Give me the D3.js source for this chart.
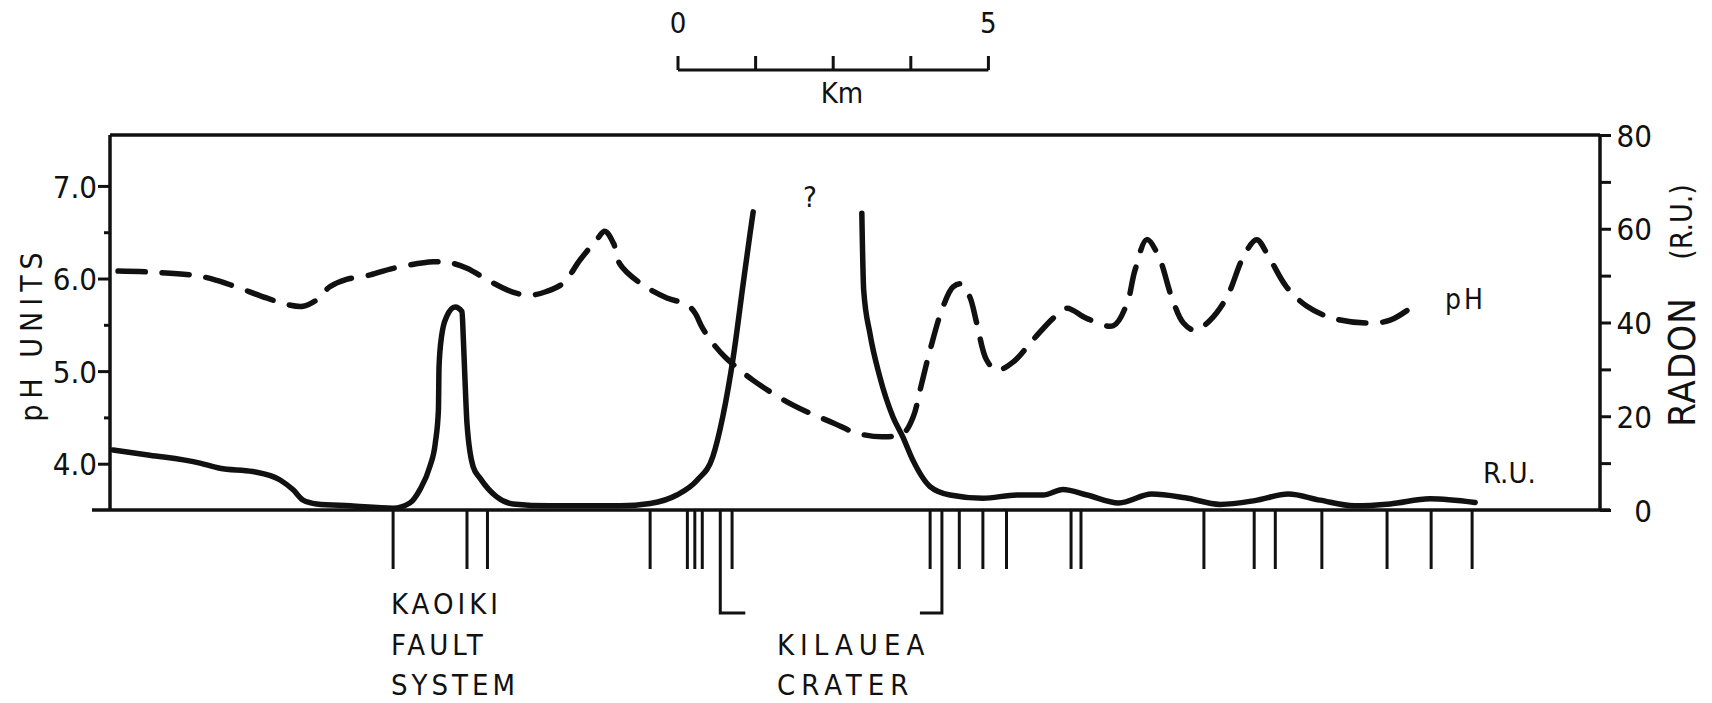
<!DOCTYPE html>
<html>
<head>
<meta charset="utf-8">
<script src="https://cdn.jsdelivr.net/npm/d3@7"></script>
<style>
  html, body { margin: 0; padding: 0; background: #ffffff; }
  svg { display: block; }
  text { font-family: 'Liberation Sans Narrow', 'DejaVu Sans Condensed', 'Liberation Sans', sans-serif; fill: #111; }
</style>
</head>
<body>
<svg id="chart" width="1712" height="703"></svg>
<script>
// Traverse distance in km; radon in R.U., soil pH in pH units.
const radonWestKm = [0.05, 0.64, 1.45, 1.77, 2.30, 2.74, 2.95, 3.11, 3.33, 3.87, 4.56, 4.83, 4.99, 5.15, 5.24, 5.29, 5.30, 5.34, 5.42, 5.56, 5.67, 5.69, 5.72, 5.75, 5.85, 5.96, 6.23, 6.49, 7.09, 8.22, 8.70, 9.13, 9.46, 9.71, 9.87, 10.04, 10.20, 10.31, 10.36];
const radonWestRU = [12.8, 11.7, 10.0, 8.9, 8.2, 6.4, 4.3, 2.1, 1.3, 0.9, 0.4, 1.5, 4.3, 9.2, 14.3, 21.3, 30.6, 37.0, 41.2, 43.3, 42.3, 37.0, 27.1, 18.5, 9.2, 6.8, 2.8, 1.3, 0.9, 0.9, 1.4, 3.2, 6.4, 11.4, 19.9, 32.7, 48.4, 59.0, 63.6];

const radonEastKm = [12.11, 12.14, 12.24, 12.40, 12.61, 12.77, 12.93, 13.21, 13.53, 14.06, 14.61, 15.03, 15.35, 15.74, 16.25, 16.78, 17.32, 17.88, 18.44, 18.98, 19.49, 20.04, 20.62, 21.26, 21.99];
const radonEastRU = [63.3, 46.9, 37.7, 28.4, 19.9, 15.6, 10.7, 5.0, 3.2, 2.5, 3.2, 3.2, 4.4, 3.2, 1.5, 3.4, 2.6, 1.2, 2.0, 3.4, 2.1, 0.9, 1.3, 2.4, 1.6];

const phKm = [0.13, 0.64, 1.40, 1.72, 1.99, 2.52, 2.85, 3.11, 3.33, 3.54, 3.81, 4.14, 4.56, 5.21, 5.48, 5.75, 6.12, 6.50, 6.77, 7.03, 7.30, 7.57, 7.84, 7.97, 8.11, 8.21, 8.54, 8.97, 9.29, 9.42, 9.54, 9.70, 9.91, 10.36, 11.01, 11.65, 12.03, 12.46, 12.78, 12.94, 13.05, 13.21, 13.42, 13.58, 13.72, 13.85, 13.96, 14.12, 14.28, 14.55, 14.87, 15.19, 15.41, 15.73, 16.16, 16.38, 16.51, 16.70, 16.89, 17.10, 17.29, 17.48, 17.72, 17.99, 18.26, 18.47, 18.66, 18.95, 19.28, 19.70, 20.24, 20.62, 21.05];
const phValues = [6.08, 6.07, 6.03, 5.98, 5.92, 5.79, 5.72, 5.70, 5.77, 5.91, 5.99, 6.03, 6.11, 6.18, 6.17, 6.11, 5.97, 5.85, 5.82, 5.86, 5.95, 6.20, 6.42, 6.51, 6.38, 6.16, 5.95, 5.79, 5.72, 5.63, 5.47, 5.31, 5.15, 4.90, 4.63, 4.44, 4.33, 4.29, 4.33, 4.51, 4.80, 5.23, 5.70, 5.91, 5.94, 5.80, 5.52, 5.12, 5.01, 5.10, 5.34, 5.57, 5.68, 5.57, 5.49, 5.73, 6.09, 6.42, 6.24, 5.80, 5.52, 5.44, 5.55, 5.80, 6.24, 6.42, 6.24, 5.91, 5.70, 5.57, 5.52, 5.55, 5.73];

// Mapped faults along the traverse and the crater rim crossings (km)
const faultKm = [4.56, 5.75, 6.08, 8.70, 9.30, 9.42, 9.54, 10.02, 13.21, 13.68, 14.06, 14.44, 15.48, 15.64, 17.62, 18.43, 18.77, 19.52, 20.57, 21.28, 21.94];
const craterRimKm = [9.83, 13.40];

const phTicks = [4.0, 4.5, 5.0, 5.5, 6.0, 6.5, 7.0];
const phTickLabels = ["4.0", "5.0", "6.0", "7.0"];
const radonTicks = [0, 10, 20, 30, 40, 50, 60, 70, 80];
const radonTickLabels = ["0", "20", "40", "60", "80"];
const scaleBarKm = [0, 1.25, 2.5, 3.75, 5];
const scaleBarLabels = ["0", "5"];

const svg = d3.select("#chart");
const INK = "#111";

const plotLeft = 110, plotRight = 1600, plotTop = 135, plotBottom = 510;

const x = d3.scaleLinear().domain([0, 24]).range([plotLeft, plotRight]);
const yPH = d3.scaleLinear().domain([3.5, 7.55]).range([plotBottom, plotTop]);
const yRn = d3.scaleLinear().domain([0, 80]).range([plotBottom, plotTop]);

// Frame
const frame = svg.append("g").attr("stroke", INK).attr("stroke-width", 3.5).attr("fill", "none");
frame.append("line").attr("x1", plotLeft).attr("x2", plotRight).attr("y1", plotTop).attr("y2", plotTop);
frame.append("line").attr("x1", plotLeft).attr("x2", plotLeft).attr("y1", plotTop).attr("y2", plotBottom);
frame.append("line").attr("x1", plotRight).attr("x2", plotRight).attr("y1", plotTop).attr("y2", plotBottom);
frame.append("line").attr("x1", 92).attr("x2", plotRight + 10).attr("y1", plotBottom).attr("y2", plotBottom);

// Left axis: pH
const axL = svg.append("g").attr("transform", `translate(${plotLeft},0)`)
  .call(d3.axisLeft(yPH).tickValues(phTicks).tickSizeOuter(0)
    .tickFormat(d => phTickLabels.includes(d.toFixed(1)) ? d.toFixed(1) : ""));
axL.select(".domain").remove();
axL.selectAll(".tick line")
  .attr("stroke", INK).attr("stroke-width", 3)
  .attr("x2", d => Number.isInteger(d) ? -12 : -6);
axL.selectAll(".tick text")
  .attr("x", -13).attr("dy", "0.36em")
  .style("font-size", "31px").attr("fill", INK);

// Right axis: radon
const axR = svg.append("g").attr("transform", `translate(${plotRight},0)`)
  .call(d3.axisRight(yRn).tickValues(radonTicks).tickSizeOuter(0).tickSize(11)
    .tickFormat(d => radonTickLabels.includes(String(d)) ? String(d) : ""));
axR.select(".domain").remove();
axR.selectAll(".tick line").attr("stroke", INK).attr("stroke-width", 3);
axR.selectAll(".tick text")
  .attr("x", 52).attr("dy", "0.36em").attr("text-anchor", "end")
  .style("font-size", "31px").attr("fill", INK);
axL.attr("font-family", null).attr("font-size", null);
axR.attr("font-family", null).attr("font-size", null);

// Axis titles
svg.append("text")
  .attr("transform", "translate(42,334) rotate(-90)")
  .attr("text-anchor", "middle")
  .style("font-size", "30px").style("letter-spacing", "6px")
  .text("pH UNITS");
svg.append("text")
  .attr("transform", "translate(1695,362) rotate(-90)")
  .attr("text-anchor", "middle")
  .style("font-size", "38px").style("letter-spacing", "1px")
  .text("RADON");
svg.append("text")
  .attr("transform", "translate(1692,222) rotate(-90)")
  .attr("text-anchor", "middle")
  .style("font-size", "30px")
  .text("(R.U.)");

// Radon curve, two branches either side of the crater
const radonLine = d3.line()
  .x(d => x(d[0])).y(d => yRn(d[1]))
  .curve(d3.curveMonotoneX);
[d3.zip(radonWestKm, radonWestRU), d3.zip(radonEastKm, radonEastRU)].forEach(branch => {
  svg.append("path").datum(branch)
    .attr("d", radonLine)
    .attr("fill", "none").attr("stroke", INK)
    .attr("stroke-width", 5.5).attr("stroke-linecap", "round").attr("stroke-linejoin", "round");
});

// pH curve (dashed)
const phLine = d3.line()
  .x(d => x(d[0])).y(d => yPH(d[1]))
  .curve(d3.curveCatmullRom.alpha(0.5));
svg.append("path").datum(d3.zip(phKm, phValues))
  .attr("d", phLine)
  .attr("fill", "none").attr("stroke", INK)
  .attr("stroke-width", 5.5).attr("stroke-linecap", "round").attr("stroke-linejoin", "round")
  .attr("stroke-dasharray", "27,17");

// Series labels
svg.append("text").attr("x", 1445).attr("y", 309)
  .style("font-size", "28px").style("letter-spacing", "3px").text("pH");
svg.append("text").attr("x", 1483).attr("y", 483)
  .style("font-size", "29px").text("R.U.");
svg.append("text").attr("x", 810).attr("y", 207).attr("text-anchor", "middle")
  .style("font-size", "29px").text("?");

// Fault ticks below the baseline
svg.append("g").selectAll("line").data(faultKm).join("line")
  .attr("x1", d => x(d)).attr("x2", d => x(d))
  .attr("y1", plotBottom).attr("y2", 569)
  .attr("stroke", INK).attr("stroke-width", 3);

// Crater rim bracket
const [rimW, rimE] = craterRimKm;
svg.append("path")
  .attr("d", `M${x(rimW)},${plotBottom}V613H${x(rimW) + 25}M${x(rimE)},${plotBottom}V613H${x(rimE) - 22}`)
  .attr("fill", "none").attr("stroke", INK).attr("stroke-width", 3);

// Feature names
const fault = svg.append("g").style("font-size", "29px").style("letter-spacing", "4px");
fault.append("text").attr("x", 391).attr("y", 614).text("KAOIKI");
fault.append("text").attr("x", 391).attr("y", 655).text("FAULT");
fault.append("text").attr("x", 391).attr("y", 695).text("SYSTEM");
const crater = svg.append("g").style("font-size", "29px").style("letter-spacing", "6px");
crater.append("text").attr("x", 777).attr("y", 655).text("KILAUEA");
crater.append("text").attr("x", 777).attr("y", 695).text("CRATER");

// Distance scale bar
const sb = d3.scaleLinear().domain([0, 5]).range([678, 678 + (x(5) - x(0))]);
const bar = svg.append("g").attr("stroke", INK).attr("stroke-width", 3).attr("fill", "none");
bar.append("line").attr("x1", sb(0)).attr("x2", sb(5)).attr("y1", 70).attr("y2", 70);
bar.selectAll("line.t").data(scaleBarKm).join("line").attr("class", "t")
  .attr("x1", d => sb(d)).attr("x2", d => sb(d)).attr("y1", 56).attr("y2", 70);
svg.append("g").selectAll("text").data(scaleBarLabels).join("text")
  .attr("x", d => sb(+d)).attr("y", 33).attr("text-anchor", "middle")
  .style("font-size", "29px").text(d => d);
svg.append("text").attr("x", 842).attr("y", 103).attr("text-anchor", "middle")
  .style("font-size", "29px").text("Km");
</script>
</body>
</html>
